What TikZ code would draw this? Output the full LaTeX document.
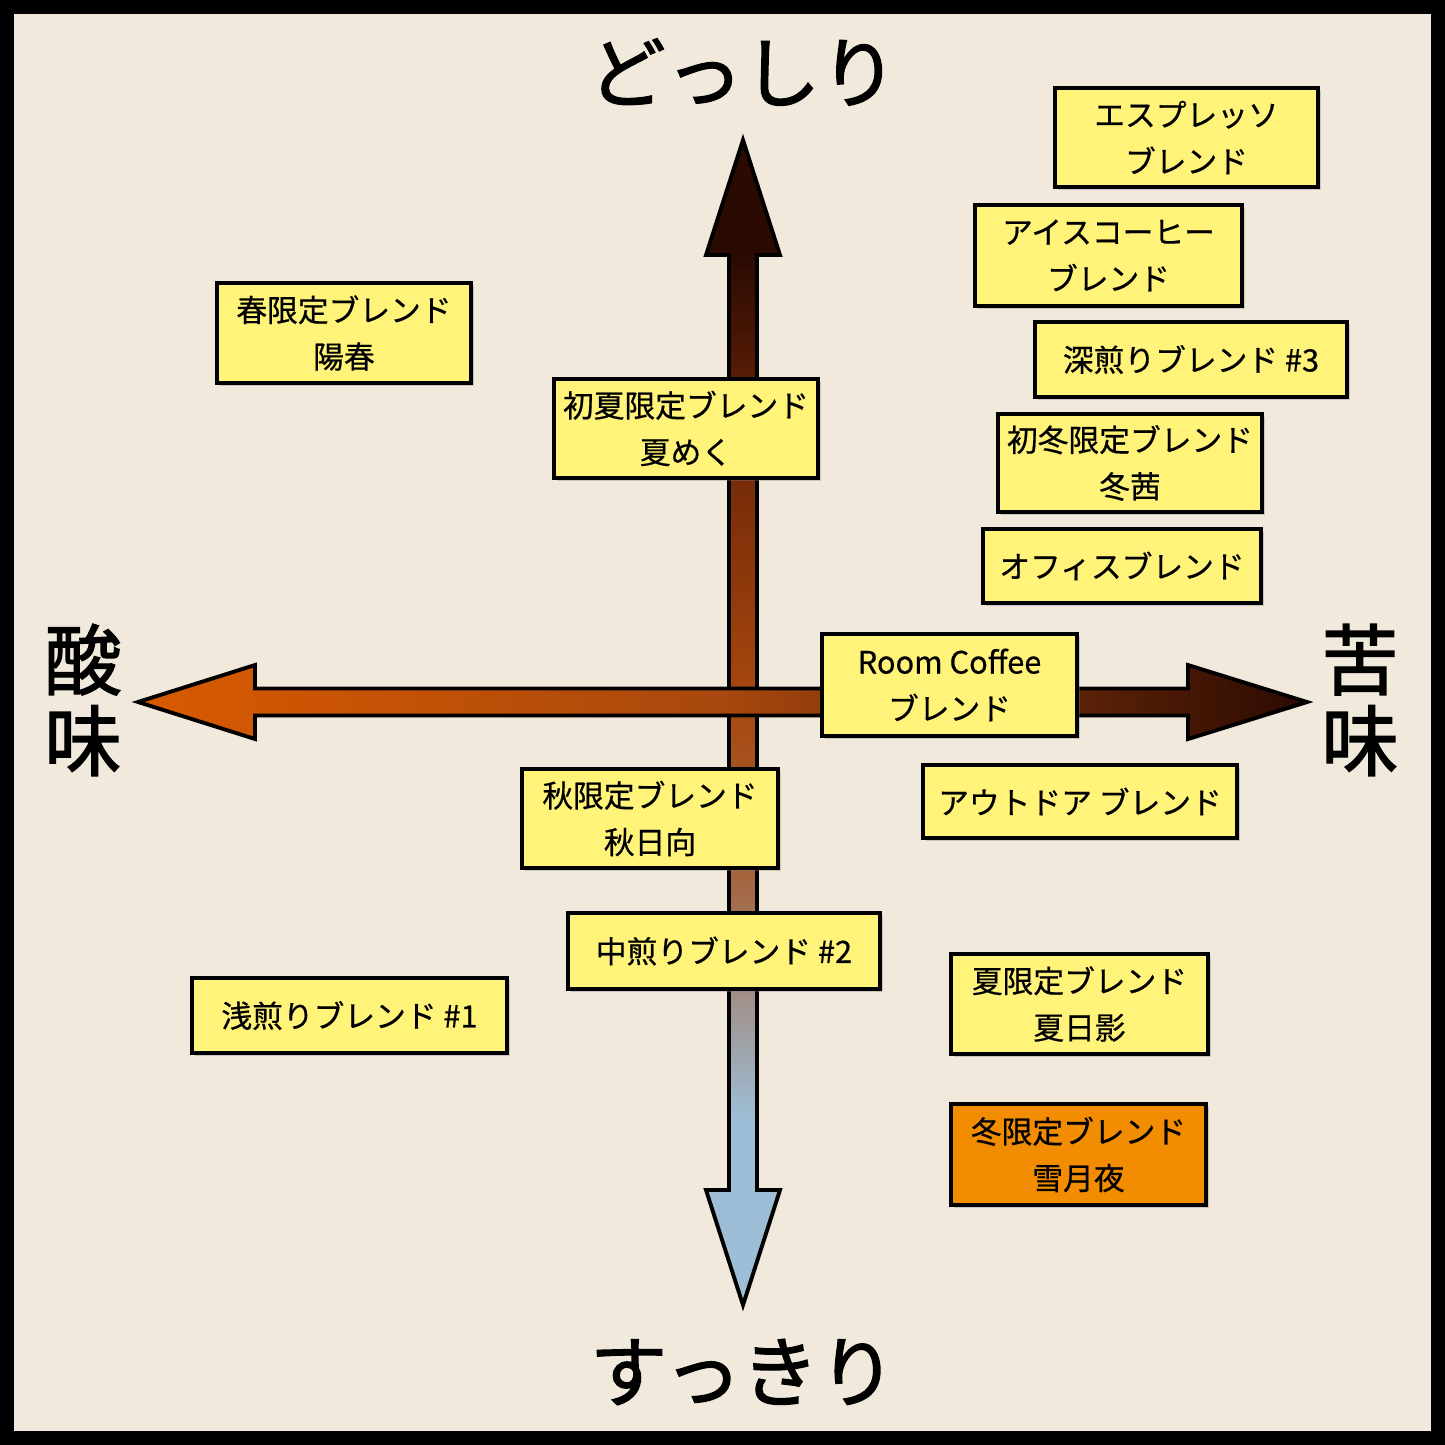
\documentclass[tikz,border=0pt]{standalone}
\usepackage{fontspec}
\setmainfont{Noto Sans CJK JP}[FakeBold=0.6]
\newfontfamily\heavyfont{Noto Sans CJK JP}[FakeBold=1.8]
\usetikzlibrary{calc, shadows}
\definecolor{paper}{HTML}{F1EADC}
\definecolor{boxyellow}{HTML}{FFF37A}
\definecolor{boxorange}{HTML}{F28C00}
\definecolor{roastdark}{HTML}{2B0A02}
\definecolor{roastbrown}{HTML}{6E2608}
\definecolor{roastmid}{HTML}{A8480E}
\definecolor{roastlight}{HTML}{D95A00}
\definecolor{coolblue}{HTML}{9DBED6}
\pgfdeclareverticalshading{roastaxis}{100bp}{color(0bp)=(coolblue); color(33bp)=(coolblue);
  color(44bp)=(roastmid!80!coolblue); color(51bp)=(roastmid); color(62bp)=(roastbrown);
  color(70bp)=(roastdark); color(100bp)=(roastdark)}
\tikzset{
  blendbox/.style={draw=black, line width=2pt, fill=boxyellow, align=center, inner sep=0pt,
    font=\fontsize{17.5}{26.5}\selectfont,
    drop shadow={opacity=0.35, shadow xshift=1.5pt, shadow yshift=-1.5pt}},
  axislabel/.style={align=center, font=\heavyfont\fontsize{44}{46}\selectfont},
  axisarrow/.style={draw=black, line width=2.2pt, line join=miter,
    drop shadow={opacity=0.3, shadow xshift=1pt, shadow yshift=-1pt}}
}
\begin{document}
\begin{tikzpicture}[x=0.02cm, y=-0.02cm]
  \useasboundingbox (0,0) rectangle (1445,1445);
  \fill[black] (0,0) rectangle (1445,1445);
  \fill[paper] (14,14) rectangle (1431,1431);
  % tips of the axes
  \coordinate (dtop) at (743,140);
  \coordinate (dbot) at (743,1305);
  \coordinate (sleft) at (138,702);
  \coordinate (sright) at (1307,702);
  % vertical axis
  \shade[axisarrow, shading=roastaxis]
    ($(dtop)+(-14,115)$) -- ($(dtop)+(-37,115)$) -- (dtop) -- ($(dtop)+(37,115)$)
    -- ($(dtop)+(14,115)$) -- ($(dbot)+(14,-115)$) -- ($(dbot)+(37,-115)$) -- (dbot)
    -- ($(dbot)+(-37,-115)$) -- ($(dbot)+(-14,-115)$) -- cycle;
  % horizontal axis
  \shade[axisarrow, left color=roastlight, right color=roastdark, middle color=roastmid]
    ($(sleft)+(117,-13.5)$) -- ($(sleft)+(117,-37)$) -- (sleft) -- ($(sleft)+(117,37)$)
    -- ($(sleft)+(117,13.5)$) -- ($(sright)+(-119,13.5)$) -- ($(sright)+(-119,37)$) -- (sright)
    -- ($(sright)+(-119,-37)$) -- ($(sright)+(-119,-13.5)$) -- cycle;
  \node[axislabel] (heavy) at (743,72) {どっしり};
  \node[axislabel] (light) at (743,1372) {すっきり};
  \node[axislabel] (acid) at (83,700) {酸\\味};
  \node[axislabel] (bitter) at (1360,700) {苦\\味};
  % blends
  \node[blendbox, minimum width=5.26cm, minimum height=1.98cm] (espresso) at (1186.5,137.5) {エスプレッソ\\ブレンド};
  \node[blendbox, minimum width=5.34cm, minimum height=2.02cm] (iced) at (1108.5,255.5) {アイスコーヒー\\ブレンド};
  \node[blendbox, minimum width=6.24cm, minimum height=1.5cm] (dark3) at (1191,359.5) {深煎りブレンド \#3};
  \node[blendbox, minimum width=5.28cm, minimum height=1.96cm] (earlywinter) at (1130,463) {初冬限定ブレンド\\冬茜};
  \node[blendbox, minimum width=5.56cm, minimum height=1.48cm] (office) at (1122,566) {オフィスブレンド};
  \node[blendbox, minimum width=5.1cm, minimum height=2.04cm] (room) at (949.5,685) {Room Coffee\\ブレンド};
  \node[blendbox, minimum width=6.28cm, minimum height=1.46cm] (outdoor) at (1080,801.5) {アウトドア ブレンド};
  \node[blendbox, minimum width=5.08cm, minimum height=2cm] (spring) at (344,333) {春限定ブレンド\\陽春};
  \node[blendbox, minimum width=5.28cm, minimum height=1.98cm] (earlysummer) at (686,428.5) {初夏限定ブレンド\\夏めく};
  \node[blendbox, minimum width=5.12cm, minimum height=1.98cm] (autumn) at (650,818.5) {秋限定ブレンド\\秋日向};
  \node[blendbox, minimum width=6.24cm, minimum height=1.52cm] (medium2) at (724,951) {中煎りブレンド \#2};
  \node[blendbox, minimum width=6.3cm, minimum height=1.5cm] (light1) at (349.5,1015.5) {浅煎りブレンド \#1};
  \node[blendbox, minimum width=5.14cm, minimum height=2cm] (summer) at (1079.5,1004) {夏限定ブレンド\\夏日影};
  \node[blendbox, fill=boxorange, minimum width=5.1cm, minimum height=2.02cm] (winter) at (1078.5,1154.5) {冬限定ブレンド\\雪月夜};
\end{tikzpicture}
\end{document}
